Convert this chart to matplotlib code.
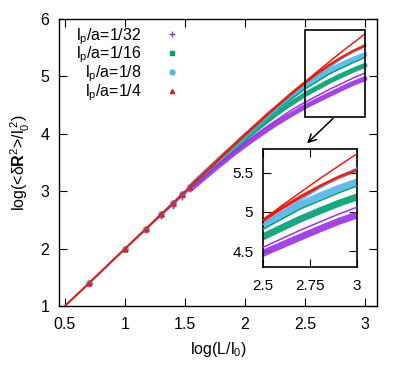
import matplotlib
matplotlib.use("Agg")
import matplotlib.pyplot as plt
from matplotlib.patches import Rectangle

plt.rcParams['font.family'] = ['Liberation Sans', 'DejaVu Sans']
plt.rcParams['mathtext.fontset'] = 'custom'
plt.rcParams['mathtext.rm'] = 'Liberation Sans'
plt.rcParams['mathtext.it'] = 'Liberation Sans:italic'
plt.rcParams['mathtext.bf'] = 'Liberation Sans:bold'

# ---- data: log(L/l0) and log(<dR^2>/l0^2) -------------------------------
labels = ['l$_{\\rm p}$/a=1/32', 'l$_{\\rm p}$/a=1/16', 'l$_{\\rm p}$/a=1/8', 'l$_{\\rm p}$/a=1/4']
colors = ['#9a2fe0', '#009e73', '#56b4e9', '#e51e10']
markers = ['+', 's', 'o', '^']

# simulation points (L/l0 = 5 ... 1000)
x_sim = [0.699, 1.000, 1.176, 1.301, 1.398, 1.477, 1.544, 1.602, 1.699, 1.778, 1.845, 1.903,
         2.000, 2.079, 2.176, 2.255, 2.342, 2.415, 2.505, 2.602, 2.699, 2.799, 2.903, 3.000]
y_purple = [1.39, 1.99, 2.33, 2.57, 2.75, 2.90, 3.03, 3.13, 3.30, 3.44, 3.55, 3.65,
            3.80, 3.92, 4.06, 4.17, 4.28, 4.37, 4.48, 4.58, 4.68, 4.78, 4.88, 4.96]
y_green = [1.40, 2.00, 2.35, 2.59, 2.78, 2.94, 3.07, 3.18, 3.36, 3.51, 3.64, 3.74,
           3.91, 4.05, 4.21, 4.34, 4.47, 4.57, 4.69, 4.80, 4.91, 5.01, 5.11, 5.19]
y_blue = [1.40, 2.00, 2.35, 2.60, 2.79, 2.95, 3.08, 3.20, 3.39, 3.54, 3.67, 3.78,
          3.97, 4.11, 4.29, 4.43, 4.57, 4.69, 4.83, 4.96, 5.09, 5.20, 5.30, 5.38]
y_red = [1.40, 2.00, 2.35, 2.60, 2.79, 2.95, 3.08, 3.20, 3.39, 3.55, 3.68, 3.79,
         3.98, 4.13, 4.32, 4.46, 4.62, 4.75, 4.90, 5.05, 5.19, 5.32, 5.44, 5.54]
y_sim = [y_purple, y_green, y_blue, y_red]

# theory curves
x_th = [0.5, 0.75, 1.0, 1.25, 1.5, 1.75, 2.0, 2.1, 2.2, 2.3, 2.4, 2.5, 2.6, 2.7, 2.8, 2.9, 3.0]
th_purple = [1.00, 1.49, 1.99, 2.48, 2.96, 3.42, 3.84, 4.00, 4.15, 4.29, 4.43, 4.55, 4.66, 4.77, 4.87, 4.97, 5.06]
th_green = [1.00, 1.50, 2.00, 2.50, 2.99, 3.48, 3.95, 4.13, 4.31, 4.48, 4.63, 4.78, 4.91, 5.04, 5.14, 5.24, 5.33]
th_blue = [1.00, 1.50, 2.00, 2.49, 2.99, 3.48, 3.95, 4.14, 4.32, 4.50, 4.67, 4.84, 5.00, 5.15, 5.30, 5.43, 5.56]
th_red_a = [1.00, 1.50, 2.00, 2.50, 3.00, 3.49, 3.98, 4.17, 4.36, 4.54, 4.72, 4.89, 5.05, 5.19, 5.32, 5.44, 5.54]
th_red_b = [1.00, 1.50, 2.00, 2.49, 2.99, 3.48, 3.97, 4.16, 4.35, 4.54, 4.72, 4.90, 5.08, 5.25, 5.42, 5.58, 5.74]
theory = [(th_purple, 0), (th_green, 1), (th_blue, 2), (th_red_a, 3), (th_red_b, 3)]

main_xticks = [0.5, 1, 1.5, 2, 2.5, 3]
main_yticks = [1, 2, 3, 4, 5, 6]
inset_xticks = [2.5, 2.75, 3]
inset_yticks = [4.5, 5, 5.5]
zoom_box = (2.5, 4.3, 3.0, 5.8)

# ---- figure -------------------------------------------------------------
W, H = 405, 375
fig = plt.figure(figsize=(W / 100, H / 100), dpi=100)
ax = fig.add_axes([59 / W, 1 - 306 / H, 318 / W, 287 / H])
axi = fig.add_axes([263 / W, 1 - 267 / H, 94 / W, 118 / H])

band_lw_main = [3.6, 3.6, 3.6, 2.2]
band_lw_ins = [5.0, 5.0, 5.0, 2.6]
msizes = [5, 3.5, 4, 3.5]
start_band = 6

def draw(a, band_lw):
    for i in range(4):
        a.plot(x_sim[start_band:], y_sim[i][start_band:], color=colors[i], lw=band_lw[i],
               solid_capstyle='round', alpha=0.9, zorder=2 + i * 0.1)
        a.plot(x_sim[:start_band + 1], y_sim[i][:start_band + 1], ls='none', marker=markers[i],
               ms=msizes[i], mew=1.0, color=colors[i], zorder=2 + i * 0.1)
    for ys, ci in theory:
        a.plot(x_th, ys, color=colors[ci], lw=1.1, zorder=3 + ci * 0.1)

draw(ax, band_lw_main)
draw(axi, band_lw_ins)

# legend proxies
handles = [ax.plot([], [], ls='none', marker=markers[i], ms=msizes[i] - 0.5, mew=1.0,
                   color=colors[i])[0] for i in range(4)]
leg = ax.legend(handles, labels, loc='upper right', bbox_to_anchor=(0.405, 0.975),
                frameon=False, markerfirst=False, fontsize=11.5, handlelength=2.0,
                handletextpad=0.9, labelspacing=-0.12, borderpad=0, borderaxespad=0)

ax.set_xlim(0.45, 3.1)
ax.set_ylim(1, 6)
ax.set_xticks(main_xticks)
ax.set_xticklabels(['0.5', '1', '1.5', '2', '2.5', '3'])
ax.set_yticks(main_yticks)
ax.tick_params(direction='in', length=6, width=0.8, top=True, right=True,
               labelsize=11.5, pad=7)
ax.tick_params(axis='x', pad=8)
ax.set_xlabel(r'log(L/l$_0$)', fontsize=11.5, labelpad=6)
ax.set_ylabel(r'log(<δ$\mathbf{R}^2$>/l$_0^{\ 2}$)', fontsize=11.5, labelpad=6)
for s in ax.spines.values():
    s.set_linewidth(1.0)

x0, y0, x1, y1 = zoom_box
ax.add_patch(Rectangle((x0, y0), x1 - x0, y1 - y0, fill=False, ec='black', lw=1.2, zorder=6))
ax.annotate('', xy=(2.5, 3.8), xytext=(2.75, 4.3),
            arrowprops=dict(arrowstyle='->', color='black', lw=1.1, mutation_scale=14), zorder=6)

axi.set_xlim(x0, x1)
axi.set_ylim(y0, y1)
axi.set_xticks(inset_xticks)
axi.set_xticklabels(['2.5', '2.75', '3'])
axi.set_yticks(inset_yticks)
axi.set_yticklabels(['4.5', '5', '5.5'])
axi.tick_params(direction='in', length=6, width=0.8, top=True, right=True,
                labelsize=11, pad=7)
axi.tick_params(axis='x', pad=9)
for s in axi.spines.values():
    s.set_linewidth(1.2)
axi.set_zorder(10)

fig.savefig('out.png', dpi=100)
